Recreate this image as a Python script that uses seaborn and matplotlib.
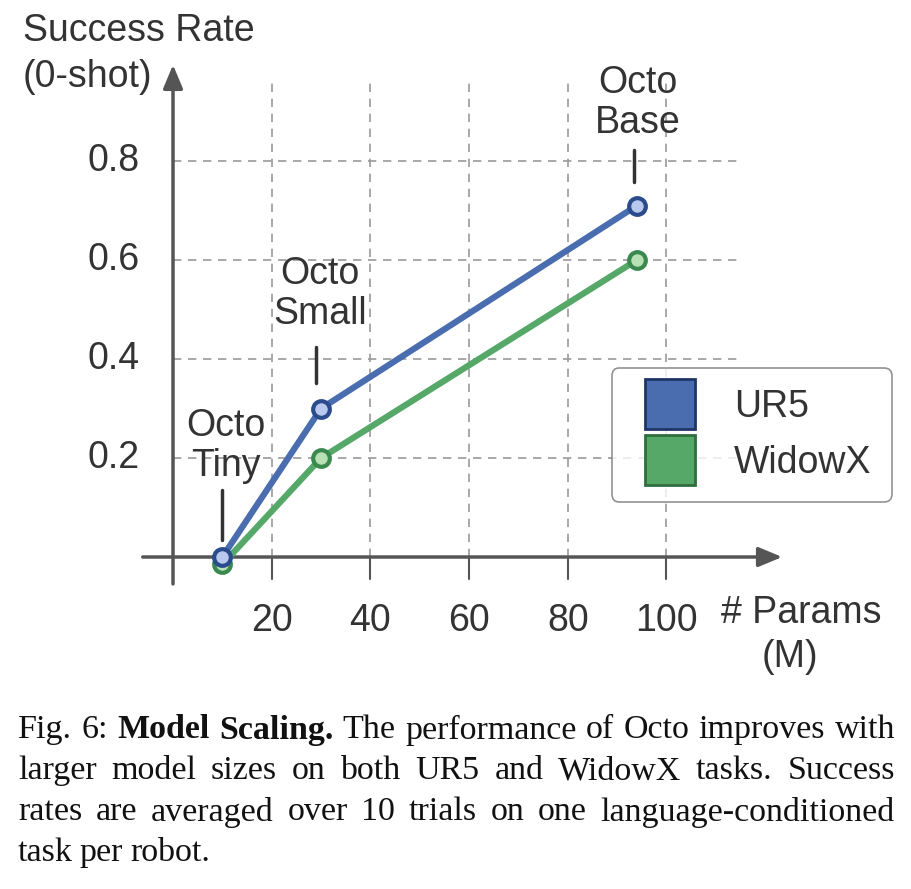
import matplotlib.pyplot as plt
import seaborn as sns
from matplotlib.lines import Line2D
from matplotlib.transforms import IdentityTransform

sns.set_theme(style="white")
plt.rcParams['font.family'] = ['Liberation Sans', 'DejaVu Sans']

# === Data ===
params = [10, 30, 94]
ur5 = [0.0, 0.3, 0.71]
widowx = [-0.015, 0.2, 0.6]
model_names = ["Octo\nTiny", "Octo\nSmall", "Octo\nBase"]
xticks = [20, 40, 60, 80, 100]
yticks = [0.2, 0.4, 0.6, 0.8]

BLUE, BLUE_EDGE, BLUE_FILL = "#4a6db0", "#2b4c8c", "#b9c9ee"
GREEN, GREEN_EDGE, GREEN_FILL = "#55a868", "#3a8a50", "#b7e0b5"
GRAY = "#555555"
FS = 27

fig = plt.figure(figsize=(9.12, 8.89), dpi=100)
ax = fig.add_axes([0, 0, 1, 1])
# pixel -> data mapping: x=(px-173)/4.935, y=(557-py)/495
ax.set_xlim(-35.06, 149.75)
ax.set_ylim(-0.6707, 1.1253)
ax.axis("off")

# grid
dash = (0, (5, 4))
for x in xticks:
    ax.plot([x, x], [0, 0.97], ls=dash, color="#999999", lw=1.2, zorder=1)
for y in yticks:
    ax.plot([0, 115], [y, y], ls=dash, color="#999999", lw=1.2, zorder=1)

# axes arrows
ax.annotate("", xy=(124, 0), xytext=(-6.7, 0),
            arrowprops=dict(arrowstyle="-|>,head_length=1.2,head_width=0.5", color=GRAY, lw=2.5))
ax.annotate("", xy=(0, 1.0), xytext=(0, -0.06),
            arrowprops=dict(arrowstyle="-|>,head_length=1.2,head_width=0.5", color=GRAY, lw=2.5))
for x in xticks:
    ax.plot([x, x], [0, -0.045], color=GRAY, lw=1.5)

# tick labels
for x in xticks:
    ax.text(x, -0.13, str(x), ha="center", va="center", fontsize=FS, color="#333333")
for y in yticks:
    ax.text(-12, y, f"{y:.1f}", ha="center", va="center", fontsize=FS, color="#333333")
ax.text(-30.5, 1.063, "Success Rate", ha="left", va="center", fontsize=FS, color="#333333")
ax.text(-30.5, 0.97, "(0-shot)", ha="left", va="center", fontsize=FS, color="#333333")
ax.text(111, -0.113, "# Params", ha="left", va="center", fontsize=FS, color="#333333")
ax.text(125, -0.202, "(M)", ha="center", va="center", fontsize=FS, color="#333333")

# series
sns.lineplot(x=params, y=ur5, ax=ax, color=BLUE, lw=4.5, marker="o", markersize=12,
             markerfacecolor=BLUE_FILL, markeredgecolor=BLUE_EDGE, markeredgewidth=3, zorder=4)
sns.lineplot(x=params, y=widowx, ax=ax, color=GREEN, lw=4.5, marker="o", markersize=12,
             markerfacecolor=GREEN_FILL, markeredgecolor=GREEN_EDGE, markeredgewidth=3, zorder=3)

# model annotations: (x, text middle, tick top, tick bottom)
name_pos = [(10.8, 0.224, 0.135, 0.034), (29.8, 0.531, 0.424, 0.352), (94.2, 0.917, 0.822, 0.758)]
for name, (x, ty, t0, t1) in zip(model_names, name_pos):
    ax.text(x, ty, name, ha="center", va="center", fontsize=FS, color="#333333", linespacing=1.15)
    ax.plot([x - 0.8, x - 0.8], [t0, t1], color="#333333", lw=2.5)

# legend
handles = [
    Line2D([], [], ls="", marker="s", markersize=36, markerfacecolor=BLUE, markeredgecolor="#1f3566", markeredgewidth=2),
    Line2D([], [], ls="", marker="s", markersize=36, markerfacecolor=GREEN, markeredgecolor="#2f6e3e", markeredgewidth=2),
]
leg = ax.legend(handles, ["UR5", "WidowX"], loc="upper left", bbox_to_anchor=(612 / 912, 1 - 368 / 889),
                fontsize=FS, frameon=True, fancybox=True, labelspacing=0.55, borderpad=0.55,
                handletextpad=0.7, borderaxespad=0)
leg.get_frame().set_edgecolor("#777777")
leg.get_frame().set_linewidth(1.2)
for t in leg.get_texts():
    t.set_color("#333333")

# caption, justified between x=18 and x=895 px
cap_font = ["Liberation Serif", "DejaVu Serif"]
cap_lines = [
    [("Fig.", "normal"), ("6:", "normal"), ("Model", "bold"), ("Scaling.", "bold"), ("The", "normal"),
     ("performance", "normal"), ("of", "normal"), ("Octo", "normal"), ("improves", "normal"), ("with", "normal")],
    [(w, "normal") for w in "larger model sizes on both UR5 and WidowX tasks. Success".split()],
    [(w, "normal") for w in "rates are averaged over 10 trials on one language-conditioned".split()],
    [(w, "normal") for w in "task per robot.".split()],
]
cap_y = [730, 771, 812, 853]
renderer = fig.canvas.get_renderer()
left, right = 18, 895
for i, (words, py) in enumerate(zip(cap_lines, cap_y)):
    texts = [fig.text(0, 0, w, fontsize=24.5, family=cap_font, weight=wt, color="#111111",
                      va="center", ha="left", transform=IdentityTransform()) for w, wt in words]
    widths = [t.get_window_extent(renderer).width for t in texts]
    if i < len(cap_lines) - 1:
        gap = (right - left - sum(widths)) / (len(words) - 1)
    else:
        gap = fig.text(0, 0, " ", fontsize=24.5, family=cap_font).get_window_extent(renderer).width * 0 + 7
    x = left
    for t, w in zip(texts, widths):
        t.set_position((x, 889 - py))
        x += w + gap

fig.savefig("out.png", dpi=100, facecolor="white")
